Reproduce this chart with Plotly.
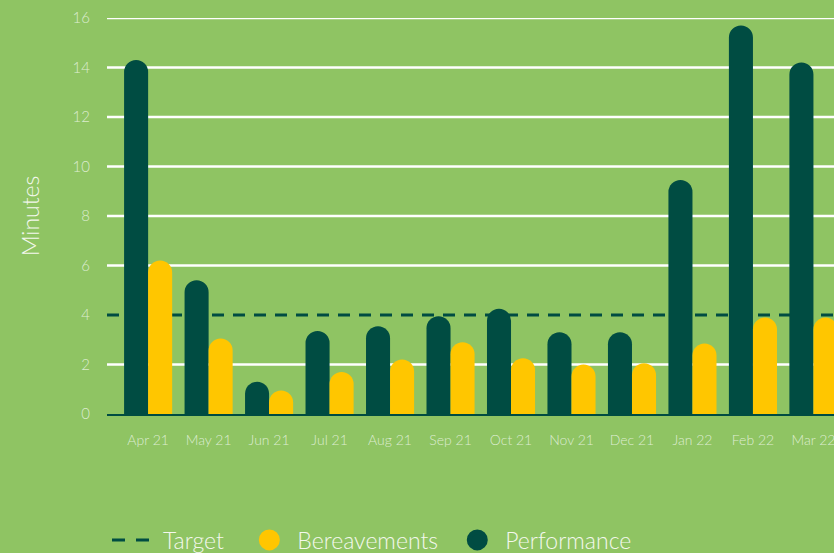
import plotly.graph_objects as go

months = ["Apr 21", "May 21", "Jun 21", "Jul 21", "Aug 21", "Sep 21",
          "Oct 21", "Nov 21", "Dec 21", "Jan 22", "Feb 22", "Mar 22"]
performance = [14.3, 5.4, 1.3, 3.35, 3.55, 3.95, 4.25, 3.3, 3.3, 9.45, 15.7, 14.2]
bereavements = [6.2, 3.05, 0.95, 1.7, 2.2, 2.9, 2.25, 2.0, 2.05, 2.85, 3.9, 3.9]
target = 4
y_ticks = [0, 2, 4, 6, 8, 10, 12, 14, 16]

BG = "#8fc463"
DARK = "#004c42"
YELLOW = "#ffc600"
TICK = "rgba(235,245,228,0.85)"
WHITE_TXT = "#f4f8ee"
FONT = "Lato"
NB = "\u00a0"

x = list(range(len(months)))

fig = go.Figure()
# legend-only entries
fig.add_trace(go.Scatter(x=[None], y=[None], mode="lines", name="Target" + NB * 2,
                         line=dict(color=DARK, width=3, dash="13px,11px")))
fig.add_trace(go.Scatter(x=[None], y=[None], mode="markers", name="Bereavements" + NB,
                         marker=dict(color=YELLOW, size=16, symbol="circle",
                                     line=dict(color=YELLOW, width=5))))
fig.add_trace(go.Scatter(x=[None], y=[None], mode="markers", name="Performance",
                         marker=dict(color=DARK, size=16, symbol="circle",
                                     line=dict(color=DARK, width=5))))
# bars
fig.add_trace(go.Bar(x=x, y=performance, name="Performance", marker_color=DARK,
                     marker_line_width=0, marker_cornerradius="50%",
                     showlegend=False, hoverinfo="y"))
fig.add_trace(go.Bar(x=x, y=bereavements, name="Bereavements", marker_color=YELLOW,
                     marker_line_width=0, marker_cornerradius="50%",
                     showlegend=False, hoverinfo="y"))

# white gridlines (none at the target value), then the dashed target line
for v in y_ticks:
    if v in (0, target):
        continue
    fig.add_shape(type="line", xref="paper", x0=0, x1=1, yref="y", y0=v, y1=v,
                  line=dict(color="white", width=2.5), layer="between")
fig.add_shape(type="line", xref="paper", x0=0, x1=1, yref="y", y0=target, y1=target,
              line=dict(color=DARK, width=3, dash="12px,9px"), layer="between")

fig.update_layout(
    width=834, height=553,
    paper_bgcolor=BG, plot_bgcolor=BG,
    margin=dict(l=107, r=0, t=18, b=139, autoexpand=False),
    barmode="group", bargap=0.205, bargroupgap=0,
    font=dict(family=FONT, color=TICK, weight=300),
    showlegend=True,
    legend=dict(orientation="h", x=0.0, xanchor="left", y=-0.318, yanchor="middle",
                font=dict(size=23, color=WHITE_TXT, family=FONT, weight=300),
                bgcolor="rgba(0,0,0,0)", itemwidth=46, traceorder="normal"),
    xaxis=dict(range=[-0.68, 11.34], tickmode="array", tickvals=x, ticktext=months,
               showgrid=False, zeroline=False, showline=True, linecolor=DARK, linewidth=2,
               tickfont=dict(size=14, color=TICK, family=FONT, weight=300), ticks="",
               ticklabelstandoff=12, ticklabeloverflow="allow", fixedrange=True,
               automargin=False),
    yaxis=dict(range=[0, 16], tickvals=y_ticks, showgrid=False,
               zeroline=False, showline=False, automargin=False,
               tickfont=dict(size=15, color=TICK, family=FONT, weight=300), ticks="",
               ticklabelstandoff=16,
               title=dict(text="Minutes",
                          font=dict(size=23, color=WHITE_TXT, family=FONT, weight=300),
                          standoff=26)),
)

fig.write_html("out.html",
               config={"displayModeBar": False},
               post_script="document.body.style.margin='0';document.body.style.overflow='hidden';")
